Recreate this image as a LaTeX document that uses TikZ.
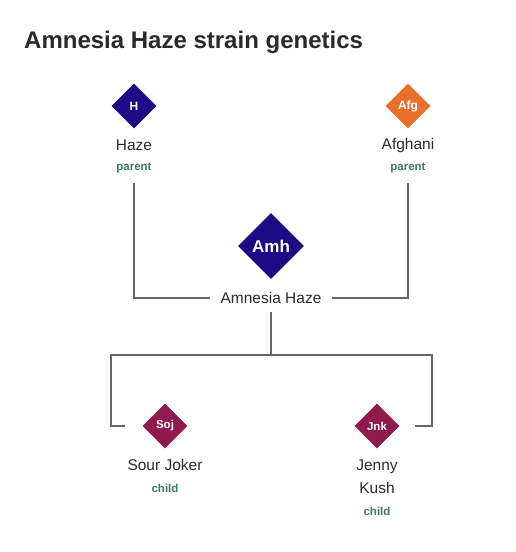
\documentclass[tikz,border=0pt]{standalone}
\usepackage{fontspec}
\setmainfont{Liberation Sans}
\usetikzlibrary{shapes.geometric}
\definecolor{navy}{HTML}{1C0A86}
\definecolor{orng}{HTML}{E8702A}
\definecolor{marn}{HTML}{8E1A4E}
\definecolor{grn}{HTML}{3D7A5E}
\definecolor{txt}{HTML}{2A2A2A}
\definecolor{ln}{HTML}{666666}
\tikzset{
  dia/.style={diamond, minimum width=#1, minimum height=#1, inner sep=0pt, text=white, font=\fontsize{12}{14}\selectfont\bfseries},
  lbl/.style={text=txt, font=\fontsize{15.5}{18}\selectfont},
  role/.style={text=grn, font=\fontsize{11.5}{13}\selectfont\bfseries},
  conn/.style={draw=ln, line width=1.6pt}
}
\begin{document}
\begin{tikzpicture}[x=1pt,y=-1pt]
\useasboundingbox (0,0) rectangle (516,552);
\node[anchor=base west, text=txt, font=\fontsize{24}{28}\selectfont\bfseries, inner sep=0pt] (title) at (24,48) {Amnesia Haze strain genetics};
% parents
\node[dia=45pt, fill=navy] (h) at (134,106) {H};
\node[lbl] (hn) at (134,145) {Haze};
\node[role] (hr) at (134,168) {parent};
\node[dia=45pt, fill=orng] (afg) at (408,106) {Afg};
\node[lbl] (an) at (408,145) {Afghani};
\node[role] (ar) at (408,168) {parent};
% center
\node[dia=66pt, fill=navy, font=\fontsize{17}{20}\selectfont\bfseries] (amh) at (271,246) {Amh};
\node[lbl, inner xsep=10pt, inner ysep=8pt] (amn) at (271,298) {Amnesia Haze};
% children
\node[dia=45pt, fill=marn, font=\fontsize{11.5}{13}\selectfont\bfseries] (soj) at (165,426) {Soj};
\node[lbl] (sn) at (165,465) {Sour Joker};
\node[role] (sr) at (165,488) {child};
\node[dia=45pt, fill=marn, font=\fontsize{11.5}{13}\selectfont\bfseries] (jnk) at (377,426) {Jnk};
\node[lbl, align=center] (jn) at (377,477) {Jenny\\[5pt]Kush};
\node[role] (jr) at (377,511) {child};
% connectors
\coordinate (hs) at (134,183);
\coordinate (as) at (408,183);
\coordinate (bar) at (271,355);
\coordinate (bl) at (111,426);
\coordinate (br) at (432,426);
\draw[conn] (hs) |- (amn.west);
\draw[conn] (as) |- (amn.east);
\draw[conn] (amn.south) -- (bar);
\draw[conn] (bar) -| (bl) -- ([xshift=-17pt]soj.west);
\draw[conn] (bar) -| (br) -- ([xshift=15pt]jnk.east);
\end{tikzpicture}
\end{document}
